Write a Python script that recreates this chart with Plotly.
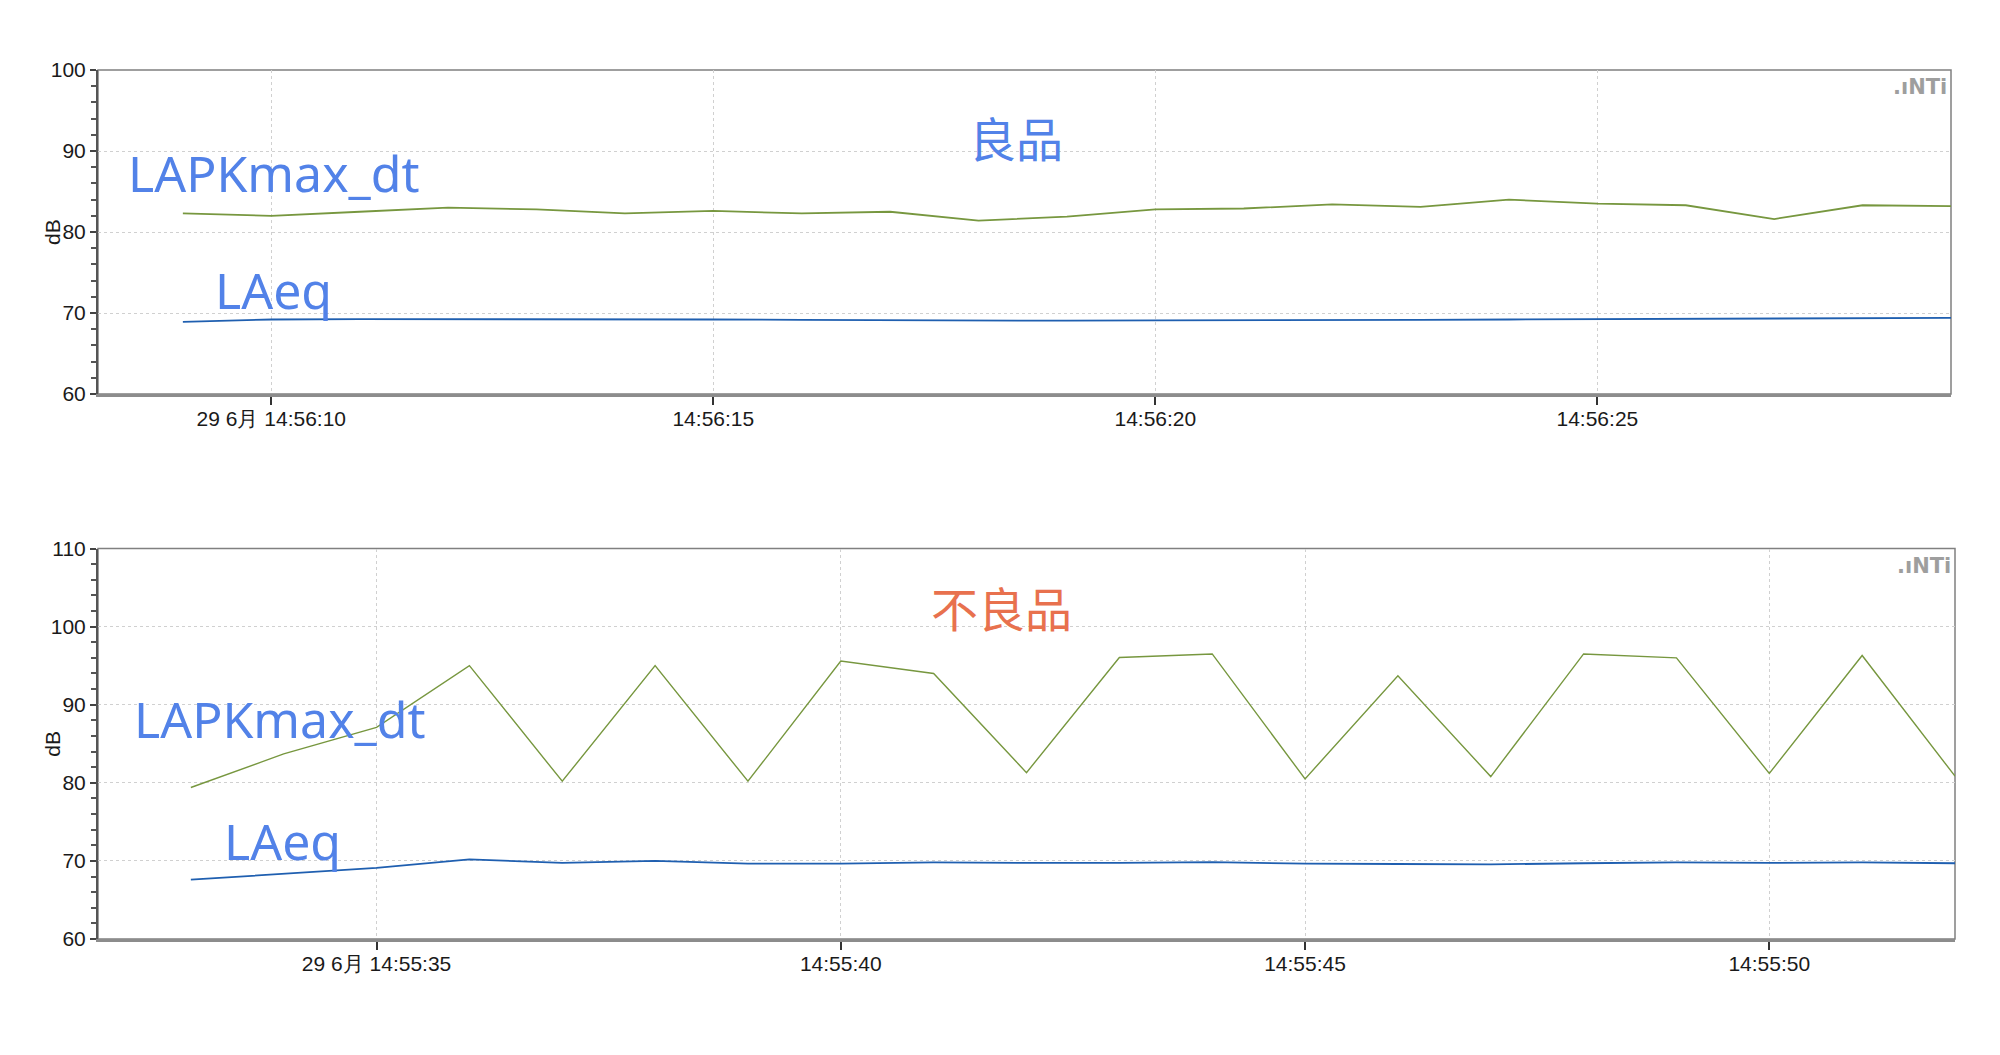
import pandas as pd
import plotly.graph_objects as go

# ---------------- data ----------------
top_start = "2021-06-29 14:56:09"
top_lapk = [82.3, 82.0, 82.5, 83.0, 82.8, 82.3, 82.6, 82.3, 82.5, 81.4, 81.9,
            82.8, 82.9, 83.4, 83.1, 84.0, 83.5, 83.3, 81.6, 83.3, 83.2]
top_laeq = [68.9, 69.2, 69.25, 69.25, 69.2, 69.2, 69.2, 69.15, 69.1, 69.05, 69.05,
            69.1, 69.1, 69.15, 69.15, 69.2, 69.25, 69.3, 69.3, 69.35, 69.4]

bot_start = "2021-06-29 14:55:33"
bot_lapk = [79.4, 83.7, 87.1, 95.0, 80.2, 95.0, 80.2, 95.6, 94.0, 81.3,
            96.05, 96.5, 80.5, 93.7, 80.8, 96.5, 96.0, 81.2, 96.3, 80.85]
bot_laeq = [67.6, 68.35, 69.1, 70.2, 69.75, 70.0, 69.65, 69.65, 69.8, 69.75,
            69.75, 69.85, 69.65, 69.6, 69.55, 69.7, 69.8, 69.75, 69.8, 69.7]

top_tick_vals = ["2021-06-29 14:56:10", "2021-06-29 14:56:15",
                 "2021-06-29 14:56:20", "2021-06-29 14:56:25"]
top_tick_text = ["29 6月 14:56:10", "14:56:15", "14:56:20", "14:56:25"]
bot_tick_vals = ["2021-06-29 14:55:35", "2021-06-29 14:55:40",
                 "2021-06-29 14:55:45", "2021-06-29 14:55:50"]
bot_tick_text = ["29 6月 14:55:35", "14:55:40", "14:55:45", "14:55:50"]

top_xrange = ["2021-06-29 14:56:08.04", "2021-06-29 14:56:29.0"]
bot_xrange = ["2021-06-29 14:55:32.0", "2021-06-29 14:55:52.0"]
top_yrange = [60, 100]
bot_yrange = [60, 110]

series_names = ["LAPKmax_dt", "LAeq"]
top_title = "良品"
bot_title = "不良品"
y_title = "dB"
logo_text = "<b>.ıNTi</b>"

top_t = pd.date_range(top_start, periods=len(top_lapk), freq="s")
bot_t = pd.date_range(bot_start, periods=len(bot_lapk), freq="s")

GREEN = "#77973f"
BLUE = "#1f5fb0"
ANN_BLUE = "#5282e8"
ANN_RED = "#e8714e"

fig = go.Figure()
fig.add_trace(go.Scatter(x=top_t, y=top_lapk, mode="lines", name=series_names[0],
                         line=dict(color=GREEN, width=1.8), xaxis="x", yaxis="y"))
fig.add_trace(go.Scatter(x=top_t, y=top_laeq, mode="lines", name=series_names[1],
                         line=dict(color=BLUE, width=1.8), xaxis="x", yaxis="y"))
fig.add_trace(go.Scatter(x=bot_t, y=bot_lapk, mode="lines", name=series_names[0],
                         line=dict(color=GREEN, width=1.4), xaxis="x2", yaxis="y2"))
fig.add_trace(go.Scatter(x=bot_t, y=bot_laeq, mode="lines", name=series_names[1],
                         line=dict(color=BLUE, width=1.8), xaxis="x2", yaxis="y2"))

# page body has an 8px margin: the figure is sized to fill the rest of the window
OFF = 8
W, H = 2000 - OFF, 1055 - OFF

def px(x):
    return (x - OFF) / W

def py(y):
    return 1 - (y - OFF) / H

TICK_FAMILY = "Liberation Sans, Arial, sans-serif"
tick_font = dict(family=TICK_FAMILY, size=21, color="#1a1a1a")

def xax(domain, rng, vals, text, anchor):
    return dict(domain=domain, range=rng, type="date", anchor=anchor, automargin=False,
                tickmode="array", tickvals=vals, ticktext=text,
                ticks="outside", ticklen=8, tickwidth=1.5, tickcolor="#333",
                ticklabelstandoff=-4,
                tickfont=tick_font, showline=True, linecolor="#8c8c8c", linewidth=3,
                showgrid=True, gridcolor="#d0d0d0", griddash="dot", gridwidth=1,
                zeroline=False, fixedrange=True)

def yax(domain, rng, anchor):
    return dict(domain=domain, range=rng, anchor=anchor, automargin=False,
                dtick=10, tick0=0,
                ticks="outside", ticklen=6, tickwidth=1.5, tickcolor="#444",
                tickfont=tick_font, showline=True, linecolor="#555", linewidth=2,
                showgrid=True, gridcolor="#d0d0d0", griddash="dot", gridwidth=1,
                zeroline=False,
                minor=dict(dtick=2, ticks="outside", ticklen=5, tickcolor="#555",
                           tickwidth=1.5, showgrid=False))

top_dom = [py(394), py(70)]
bot_dom = [py(939), py(548.5)]

fig.update_layout(
    width=W, height=H,
    margin=dict(l=0, r=0, t=0, b=0, autoexpand=False),
    paper_bgcolor="white", plot_bgcolor="white",
    showlegend=False,
    xaxis=xax([px(98), px(1951)], top_xrange, top_tick_vals, top_tick_text, "y"),
    yaxis=yax(top_dom, top_yrange, "x"),
    xaxis2=xax([px(98), px(1955)], bot_xrange, bot_tick_vals, bot_tick_text, "y2"),
    yaxis2=yax(bot_dom, bot_yrange, "x2"),
)

# plot frames
for xr, yr in [("x domain", "y domain"), ("x2 domain", "y2 domain")]:
    fig.add_shape(type="rect", xref=xr, yref=yr, x0=0, x1=1, y0=0, y1=1,
                  line=dict(color="#808080", width=1.5), layer="below")

# y-axis titles
for dom in (top_dom, bot_dom):
    fig.add_annotation(text=y_title, xref="paper", yref="paper", x=px(53),
                       y=(dom[0] + dom[1]) / 2, xanchor="center", yanchor="middle",
                       textangle=-90, showarrow=False,
                       font=dict(family=TICK_FAMILY, size=21, color="#1a1a1a"))

LATIN = "Noto Sans, sans-serif"
CJK = "Noto Sans CJK SC, sans-serif"

def ann(text, xp, yp, color, size, family, xanchor="left"):
    fig.add_annotation(text=text, xref="paper", yref="paper", x=px(xp), y=py(yp),
                       xanchor=xanchor, yanchor="middle", showarrow=False,
                       font=dict(family=family, size=size, color=color))

ann(series_names[0], 126, 173, ANN_BLUE, 50, LATIN)
ann(series_names[1], 213, 290, ANN_BLUE, 50, LATIN)
ann(top_title, 1016, 136, ANN_BLUE, 47, CJK, "center")
ann(series_names[0], 132, 719, ANN_BLUE, 50, LATIN)
ann(series_names[1], 222, 841, ANN_BLUE, 50, LATIN)
ann(bot_title, 1001, 606, ANN_RED, 47, CJK, "center")

for xr, yr in [("x domain", "y domain"), ("x2 domain", "y2 domain")]:
    fig.add_annotation(text=logo_text, xref=xr, yref=yr, x=0.999, y=0.99,
                       xanchor="right", yanchor="top", showarrow=False,
                       font=dict(family="DejaVu Sans, sans-serif", size=21,
                                 color="#9e9e9e"))

fig.write_html("out.html")
